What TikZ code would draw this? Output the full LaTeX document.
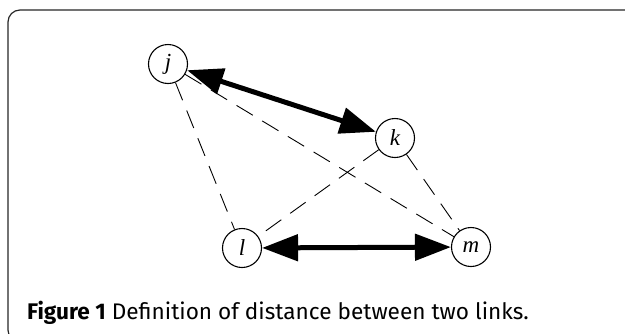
\documentclass[tikz,border=0pt]{standalone}
\usepackage{fontspec}
\newfontfamily\capfont{Fira Sans}
\newfontfamily\labfont{Liberation Serif}
\usetikzlibrary{arrows.meta}
\begin{document}
\begin{tikzpicture}[x=1pt,y=-1pt,
  vertex/.style={draw,circle,line width=1.1pt,minimum size=39pt,inner sep=0pt,font=\labfont\itshape\fontsize{23}{26}\selectfont},
  link/.style={line width=5pt,{Triangle[length=36pt,width=26pt]}-{Triangle[length=36pt,width=26pt]}},
  dist/.style={line width=0.9pt,dash pattern=on 19pt off 11pt}]
\useasboundingbox (0,0) rectangle (625,333);
\clip (0,0) rectangle (625,333);
% frame
\draw[line width=1.2pt,rounded corners=12pt,color=black!85] (8,10) rectangle (660,342);
% the four nodes
\node[vertex] (j) at (168,64) {j};
\node[vertex] (k) at (395,138) {k};
\node[vertex] (l) at (242,248) {l};
\node[vertex] (m) at (471,247) {m};
% distances
\draw[dist] (j) -- (l);
\draw[dist] (j) -- (m);
\draw[dist] (k) -- (l);
\draw[dist] (k) -- (m);
% links
\draw[link] (j) -- (k);
\draw[link] (l) -- (m);
\node[anchor=base west,inner sep=0pt,font=\capfont\fontsize{22.6}{26}\selectfont] (caption) at (27,319)
  {\textbf{Figure 1} Definition of distance between two links.};
\end{tikzpicture}
\end{document}
